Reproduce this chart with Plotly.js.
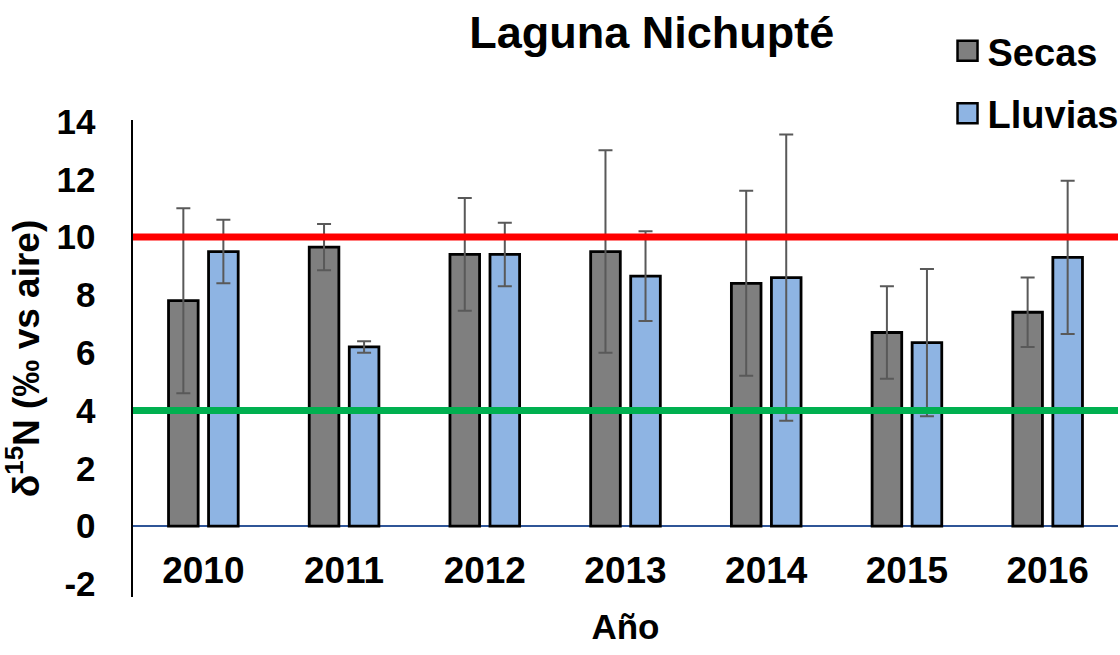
<!DOCTYPE html>
<html>
<head>
<meta charset="utf-8">
<script src="https://cdn.plot.ly/plotly-3.0.1.min.js"></script>
<style>
  html, body { margin: 0; padding: 0; background: #ffffff; }
  #chart { width: 1120px; height: 655px; }
</style>
</head>
<body>
<div id="chart"></div>
<script>
// Sampling years
const years = ['2010', '2011', '2012', '2013', '2014', '2015', '2016'];

// δ15N means and standard deviations, dry season
const secas = [7.8, 9.65, 9.4, 9.5, 8.4, 6.7, 7.4];
const secasSd = [3.2, 0.8, 1.95, 3.5, 3.2, 1.6, 1.2];

// δ15N means and standard deviations, rainy season
const lluvias = [9.5, 6.2, 9.4, 8.65, 8.6, 6.35, 9.3];
const lluviasSd = [1.1, 0.2, 1.1, 1.55, 4.95, 2.55, 2.65];

// Y-axis ticks and their labels
const yTicks = [-2, 0, 2, 4, 6, 8, 10, 12, 14];
const yTickLabels = ['-2', '0', '2', '4', '6', '8', '10', '12', '14'];

// Reference levels (upper in red, lower in green)
const referenceLevels = [10, 4];
const referenceColors = ['#FF0000', '#00B050'];

const FONT = '"Liberation Sans", Arial, sans-serif';

function barTrace(name, values, sd, color, group) {
  return {
    type: 'bar',
    name: name,
    x: years,
    y: values,
    legendgroup: group,
    marker: { color: color, line: { color: '#000000', width: 2.8 } },
    error_y: { type: 'data', array: sd, visible: true, color: '#595959', thickness: 2, width: 7 }
  };
}

const data = [
  barTrace('Secas', secas, secasSd, '#7F7F7F', 'a'),
  barTrace('Lluvias', lluvias, lluviasSd, '#8EB4E3', 'b')
];

const shapes = referenceLevels.map((v, i) => ({
  type: 'line', xref: 'paper', yref: 'y',
  x0: 0, x1: 1, y0: v, y1: v,
  line: { color: referenceColors[i], width: 7 },
  layer: 'above'
}));

const layout = {
  width: 1120,
  height: 655,
  paper_bgcolor: '#ffffff',
  plot_bgcolor: '#ffffff',
  margin: { l: 133, r: 2, t: 120, b: 58, autoexpand: false },
  font: { family: FONT, color: '#000000' },
  title: {
    text: '<b>Laguna Nichupté</b>',
    font: { family: FONT, size: 45, color: '#000000' },
    xref: 'container', yref: 'container',
    x: 0.582, xanchor: 'center',
    y: 0.951, yanchor: 'middle'
  },
  barmode: 'group',
  bargap: 0.431,
  bargroupgap: 0.26,
  showlegend: true,
  legend: {
    xref: 'container', yref: 'container',
    x: 0.846, xanchor: 'left',
    y: 0.97, yanchor: 'top',
    font: { family: FONT, size: 38, color: '#000000', weight: 'bold' },
    tracegroupgap: 10,
    itemwidth: 30,
    bgcolor: 'rgba(0,0,0,0)'
  },
  xaxis: {
    type: 'category',
    anchor: 'free',
    position: 0.1488,
    showline: false,
    showgrid: false,
    zeroline: false,
    ticks: 'outside',
    ticklen: 12,
    tickcolor: 'rgba(0,0,0,0)',
    tickfont: { family: FONT, size: 37, color: '#000000', weight: 'bold' },
    title: {
      text: '<b>Año</b>',
      font: { family: FONT, size: 35, color: '#000000' },
      standoff: 24
    }
  },
  yaxis: {
    range: [-2.45, 14.05],
    tickmode: 'array',
    tickvals: yTicks,
    ticktext: yTickLabels,
    showgrid: false,
    showline: true,
    linecolor: '#000000',
    linewidth: 2.5,
    zeroline: true,
    zerolinecolor: '#2F5597',
    zerolinewidth: 2,
    ticks: 'outside',
    ticklen: 28,
    tickcolor: 'rgba(0,0,0,0)',
    tickfont: { family: FONT, size: 35, color: '#000000', weight: 'bold' },
    title: {
      text: '<b>δ<sup>15</sup>N (‰ vs aire)</b>',
      font: { family: FONT, size: 37, color: '#000000' },
      standoff: 8
    }
  },
  shapes: shapes
};

Plotly.newPlot('chart', data, layout, { staticPlot: true, displayModeBar: false }).then(() => {
  // Larger square swatches in the legend
  document.querySelectorAll('#chart .legendpoints path').forEach(p => {
    p.setAttribute('d', 'M10,10H-10V-10H10Z');
    p.style.strokeWidth = '2.5px';
  });
});
</script>
</body>
</html>
